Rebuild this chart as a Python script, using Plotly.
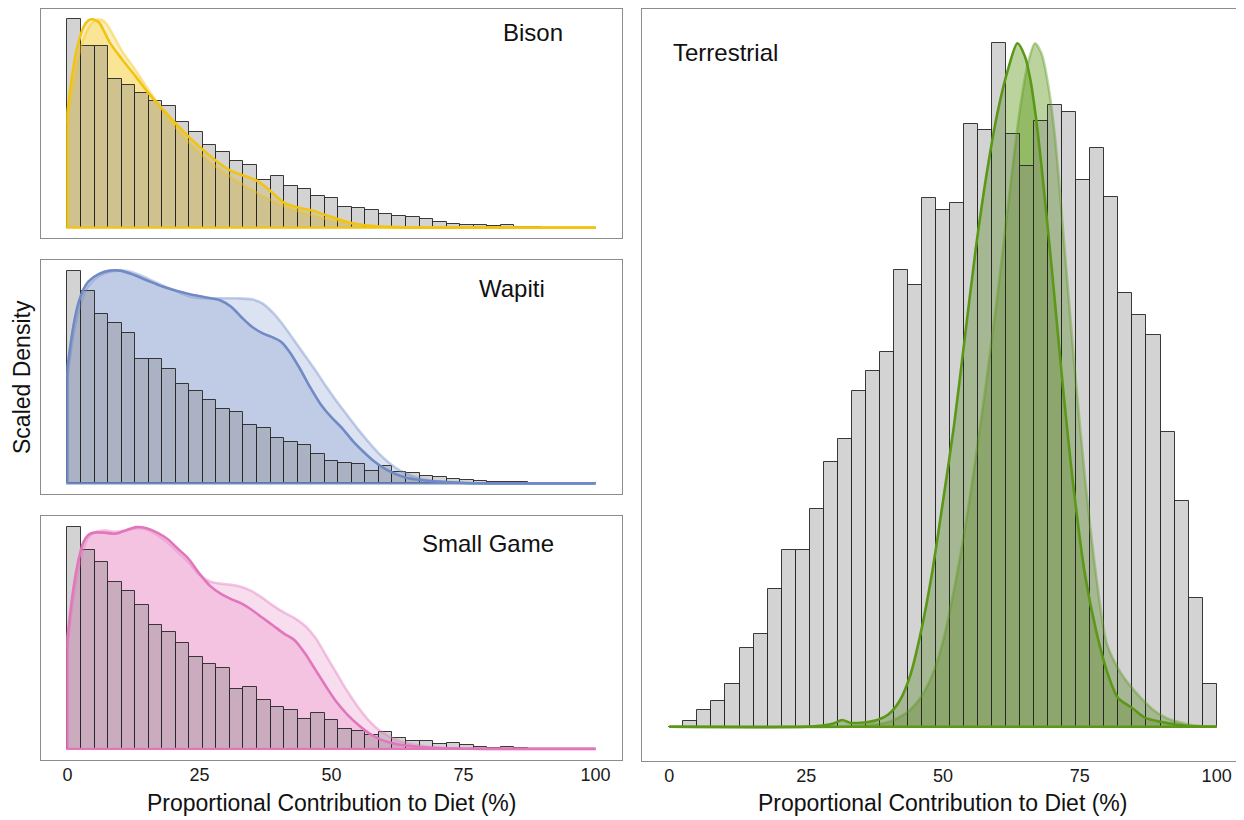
import plotly.graph_objects as go

# The page body keeps an 8 px margin, so the figure is sized/offset to compensate.
PAGE_W, PAGE_H = 1244, 820
OFF = 8
W, H = PAGE_W - OFF, PAGE_H - OFF
FONT = "Liberation Sans, Arial, sans-serif"


def fx(px):
    return (px - OFF) / W


def fy(py):
    return 1 - (py - OFF) / H


# ---------------- data ----------------
BIN_COUNT = 39
BIN_WIDTH = 100 / BIN_COUNT
bin_left = [i * BIN_WIDTH for i in range(BIN_COUNT)]

tick_values = [0, 25, 50, 75, 100]
tick_labels = ["0", "25", "50", "75", "100"]

panel_names = ["Bison", "Wapiti", "Small Game", "Terrestrial"]

bison_hist = [1.0, 0.872, 0.871, 0.715, 0.684, 0.646, 0.606, 0.586, 0.506, 0.461,
              0.396, 0.363, 0.322, 0.302, 0.229, 0.246, 0.202, 0.184, 0.151, 0.142,
              0.101, 0.092, 0.083, 0.064, 0.055, 0.050, 0.039, 0.028, 0.016, 0.011,
              0.011, 0.008, 0.011, 0.005, 0.005, 0.0, 0.0, 0.0, 0.0]
wapiti_hist = [1.0, 0.902, 0.798, 0.754, 0.706, 0.584, 0.586, 0.537, 0.466, 0.436,
               0.391, 0.350, 0.335, 0.274, 0.260, 0.212, 0.195, 0.179, 0.139, 0.106,
               0.098, 0.089, 0.059, 0.081, 0.053, 0.047, 0.036, 0.031, 0.022, 0.017,
               0.011, 0.008, 0.008, 0.005, 0.003, 0.002, 0.0, 0.0, 0.0]
small_hist = [1.0, 0.897, 0.842, 0.751, 0.711, 0.647, 0.560, 0.525, 0.478, 0.414,
              0.384, 0.367, 0.271, 0.279, 0.221, 0.191, 0.174, 0.134, 0.162, 0.130,
              0.091, 0.083, 0.064, 0.075, 0.049, 0.037, 0.036, 0.022, 0.025, 0.016,
              0.010, 0.006, 0.009, 0.003, 0.0, 0.0, 0.0, 0.0, 0.0]
terr_hist = [0.0, 0.008, 0.025, 0.038, 0.062, 0.116, 0.136, 0.202, 0.259, 0.259,
             0.319, 0.388, 0.421, 0.491, 0.520, 0.548, 0.668, 0.646, 0.774, 0.756,
             0.766, 0.882, 0.873, 1.0, 0.867, 0.820, 0.886, 0.909, 0.900, 0.800,
             0.846, 0.775, 0.635, 0.603, 0.573, 0.431, 0.330, 0.188, 0.063]

# scaled density curves (bold = main model, light = second model)
bison_bold_x = [0, 1, 2, 3, 4, 5, 6, 7, 8, 10.3, 12.8, 15.4, 18, 20.5, 23, 25.6, 28.2, 30.8,
                33.3, 35.9, 38.5, 41, 43.6, 46.2, 48.7, 51.3, 53.8, 56.4, 59, 62, 66, 75, 100]
bison_bold_y = [0.55, 0.75, 0.88, 0.96, 0.995, 1.0, 0.985, 0.94, 0.89, 0.81, 0.73, 0.645, 0.57,
                0.50, 0.435, 0.375, 0.32, 0.275, 0.25, 0.225, 0.175, 0.12, 0.097, 0.083, 0.062,
                0.04, 0.022, 0.011, 0.005, 0.002, 0.0, 0.0, 0.0]
bison_light_x = [0, 1, 2, 3, 4, 5, 6, 7, 8, 10.3, 12.8, 15.4, 18, 20.5, 23, 25.6, 28.2, 30.8,
                 33.3, 35.9, 38.5, 41, 43.6, 46.2, 48.7, 51.3, 53.8, 56.4, 60, 65, 70, 100]
bison_light_y = [0.5, 0.68, 0.81, 0.9, 0.96, 0.99, 1.0, 0.99, 0.955, 0.85, 0.76, 0.66, 0.565,
                 0.48, 0.41, 0.345, 0.29, 0.245, 0.205, 0.167, 0.133, 0.104, 0.08, 0.06, 0.043,
                 0.03, 0.02, 0.011, 0.005, 0.001, 0.0, 0.0]

wapiti_bold_x = [0, 1, 2, 3, 4, 6, 8, 10, 12, 15, 18, 20, 23, 26, 29, 31, 33, 35, 37, 39, 40.5,
                 42, 44, 46, 48, 50, 52, 54, 56, 58, 60, 62, 64, 66, 70, 75, 80, 100]
wapiti_bold_y = [0.54, 0.72, 0.84, 0.91, 0.95, 0.985, 1.0, 1.0, 0.985, 0.955, 0.925, 0.91, 0.89,
                 0.875, 0.86, 0.83, 0.78, 0.735, 0.705, 0.685, 0.665, 0.62, 0.54, 0.45, 0.37,
                 0.31, 0.26, 0.20, 0.15, 0.105, 0.07, 0.045, 0.028, 0.018, 0.008, 0.002, 0.0, 0.0]
wapiti_light_x = [0, 1, 2, 3, 4, 6, 8, 10, 12, 15, 18, 20, 23, 26, 29, 32, 35, 37, 39, 41, 43,
                  45, 47, 49, 51, 53, 55, 57, 59, 61, 63, 65, 67, 70, 75, 80, 100]
wapiti_light_y = [0.5, 0.68, 0.8, 0.88, 0.93, 0.975, 0.995, 1.0, 0.995, 0.965, 0.93, 0.91, 0.88,
                  0.87, 0.87, 0.87, 0.865, 0.845, 0.80, 0.74, 0.67, 0.60, 0.53, 0.455, 0.385,
                  0.32, 0.255, 0.195, 0.14, 0.095, 0.06, 0.037, 0.022, 0.01, 0.003, 0.0, 0.0]

small_bold_x = [0, 1, 2, 3, 4, 5, 7, 9, 11, 13, 15, 17, 19, 21, 23, 25, 27, 29, 31, 33, 35, 37,
                39, 41, 43, 45, 47, 49, 51, 53, 55, 57, 59, 61, 63, 66, 70, 75, 80, 100]
small_bold_y = [0.50, 0.70, 0.84, 0.93, 0.965, 0.975, 0.975, 0.97, 0.985, 1.0, 0.995, 0.975,
                0.945, 0.90, 0.855, 0.79, 0.735, 0.70, 0.675, 0.655, 0.625, 0.59, 0.555, 0.52,
                0.49, 0.43, 0.355, 0.28, 0.21, 0.155, 0.11, 0.072, 0.045, 0.029, 0.019, 0.01,
                0.004, 0.001, 0.0, 0.0]
small_light_x = small_bold_x
small_light_y = [0.46, 0.66, 0.80, 0.90, 0.955, 0.975, 0.985, 0.98, 0.985, 0.995, 0.99, 0.965,
                 0.93, 0.885, 0.84, 0.785, 0.755, 0.745, 0.74, 0.73, 0.71, 0.68, 0.645, 0.615,
                 0.59, 0.555, 0.50, 0.42, 0.34, 0.26, 0.19, 0.13, 0.085, 0.055, 0.035, 0.017,
                 0.006, 0.002, 0.0, 0.0]

terr_bold_x = [0, 25, 28, 30, 31.6, 33, 35, 38, 40, 42, 44, 46, 48, 50, 52, 54, 56, 58, 60, 62,
               63.6, 65, 66, 67, 68, 70, 72, 74, 76, 78, 80, 82, 84.5, 87, 90, 92, 95, 100]
terr_bold_y = [0, 0, 0.002, 0.005, 0.01, 0.006, 0.006, 0.01, 0.018, 0.037, 0.075, 0.14, 0.225,
               0.33, 0.44, 0.57, 0.70, 0.81, 0.90, 0.965, 1.0, 0.98, 0.945, 0.89, 0.82, 0.66,
               0.49, 0.34, 0.22, 0.14, 0.08, 0.042, 0.028, 0.013, 0.007, 0.004, 0.001, 0]
terr_light_x = [0, 32, 35, 38, 40, 42, 44, 46, 48, 50, 52, 54, 56, 58, 60, 62, 64, 65.5, 66.8,
                68, 69.2, 70.5, 72, 74, 76, 78, 80, 82.8, 85.3, 88.4, 90.8, 94.5, 97, 100]
terr_light_y = [0, 0, 0.002, 0.004, 0.007, 0.014, 0.025, 0.044, 0.075, 0.125, 0.2, 0.29, 0.395,
                0.51, 0.635, 0.77, 0.9, 0.97, 1.0, 0.985, 0.94, 0.86, 0.72, 0.53, 0.36, 0.22,
                0.12, 0.075, 0.05, 0.025, 0.013, 0.004, 0.001, 0]

# ---------------- styling / layout ----------------
panels = [
    dict(name=panel_names[0], hist=bison_hist,
         bx=bison_bold_x, by=bison_bold_y, lx=bison_light_x, ly=bison_light_y,
         rgb=(242, 196, 16), alpha=0.25,
         box=(41, 622, 9, 238), label_xy=(533, 33), ticks=False),
    dict(name=panel_names[1], hist=wapiti_hist,
         bx=wapiti_bold_x, by=wapiti_bold_y, lx=wapiti_light_x, ly=wapiti_light_y,
         rgb=(112, 138, 198), alpha=0.25,
         box=(41, 622, 260, 494), label_xy=(512, 288), ticks=False),
    dict(name=panel_names[2], hist=small_hist,
         bx=small_bold_x, by=small_bold_y, lx=small_light_x, ly=small_light_y,
         rgb=(226, 118, 188), alpha=0.25,
         box=(41, 622, 516, 760), label_xy=(488, 543), ticks=True),
    dict(name=panel_names[3], hist=terr_hist,
         bx=terr_bold_x, by=terr_bold_y, lx=terr_light_x, ly=terr_light_y,
         rgb=(92, 152, 24), alpha=0.42,
         box=(642, 1244, 9, 761), label_xy=(725, 52), ticks=True),
]


def rgba(c, a):
    return f"rgba({c[0]},{c[1]},{c[2]},{a})"


fig = go.Figure()
layout = dict(
    width=W, height=H,
    margin=dict(l=0, r=0, t=0, b=0),
    paper_bgcolor="white", plot_bgcolor="white",
    showlegend=False, bargap=0,
    font=dict(family=FONT, color="#1a1a1a"),
    annotations=[],
)

for i, p in enumerate(panels):
    n = i + 1
    o = i + 5
    xa = "x" if n == 1 else f"x{n}"
    ya = "y" if n == 1 else f"y{n}"
    xo, yo = f"x{o}", f"y{o}"
    c = p["rgb"]

    # density fills (base layer)
    for dx, dy in [(p["lx"], p["ly"]), (p["bx"], p["by"])]:
        fig.add_trace(go.Scatter(
            x=dx, y=dy, mode="lines",
            line=dict(width=0, shape="spline", smoothing=0.8, color=rgba(c, 0)),
            fill="tozeroy", fillcolor=rgba(c, p["alpha"]),
            xaxis=xa, yaxis=ya, hoverinfo="skip"))

    # histogram (semi-transparent, on top of the density fills)
    fig.add_trace(go.Bar(
        x=bin_left, y=p["hist"], width=BIN_WIDTH, offset=0,
        marker=dict(color="rgba(128,128,128,0.35)",
                    line=dict(color="rgba(38,38,38,0.9)", width=1)),
        xaxis=xo, yaxis=yo, hoverinfo="skip"))

    # density outlines
    fig.add_trace(go.Scatter(
        x=p["lx"], y=p["ly"], mode="lines",
        line=dict(width=2.6, shape="spline", smoothing=0.8, color=rgba(c, 0.4)),
        xaxis=xo, yaxis=yo, hoverinfo="skip"))
    fig.add_trace(go.Scatter(
        x=[p["bx"][0], p["bx"][0], p["bx"][-1]], y=[p["by"][0], 0, 0], mode="lines",
        line=dict(width=2.4, color=rgba(c, 1)),
        xaxis=xo, yaxis=yo, hoverinfo="skip"))
    fig.add_trace(go.Scatter(
        x=p["bx"], y=p["by"], mode="lines",
        line=dict(width=2.6, shape="spline", smoothing=0.8, color=rgba(c, 1)),
        xaxis=xo, yaxis=yo, hoverinfo="skip"))

    x0, x1, y0, y1 = p["box"]
    xdom = [max(0.0, fx(x0)), min(1.0, fx(x1))]
    ydom = [max(0.0, fy(y1)), min(1.0, fy(y0))]
    key_x = "xaxis" if n == 1 else f"xaxis{n}"
    key_y = "yaxis" if n == 1 else f"yaxis{n}"
    layout[key_x] = dict(
        domain=xdom, anchor=ya, range=[-5, 105],
        showgrid=False, zeroline=False, showline=True, mirror=True,
        linecolor="#8c8c8c", linewidth=1, ticks="",
        tickmode="array", tickvals=tick_values, ticktext=tick_labels,
        showticklabels=p["ticks"], ticklabelstandoff=-2,
        tickfont=dict(family=FONT, size=18, color="#1a1a1a"), fixedrange=True)
    layout[key_y] = dict(
        domain=ydom, anchor=xa, range=[-0.05, 1.05],
        showgrid=False, zeroline=False, showline=True, mirror=True,
        linecolor="#8c8c8c", linewidth=1, ticks="", showticklabels=False,
        fixedrange=True)
    layout[f"xaxis{o}"] = dict(overlaying=xa, anchor=yo, range=[-5, 105],
                               visible=False, fixedrange=True)
    layout[f"yaxis{o}"] = dict(overlaying=ya, anchor=xo, range=[-0.05, 1.05],
                               visible=False, fixedrange=True)

    lx, ly = p["label_xy"]
    layout["annotations"].append(dict(
        text=p["name"], x=fx(lx), y=fy(ly), xref="paper", yref="paper",
        xanchor="center", yanchor="middle", showarrow=False,
        font=dict(family=FONT, size=24, color="#111111")))

# axis titles
for cx in [(41 + 622) / 2, (642 + 1243) / 2]:
    layout["annotations"].append(dict(
        text="Proportional Contribution to Diet (%)", x=fx(cx), y=fy(803),
        xref="paper", yref="paper", xanchor="center", yanchor="middle",
        showarrow=False, font=dict(family=FONT, size=23, color="#111111")))
layout["annotations"].append(dict(
    text="Scaled Density", x=fx(22), y=fy(377), xref="paper", yref="paper",
    xanchor="center", yanchor="middle", textangle=-90, showarrow=False,
    font=dict(family=FONT, size=23, color="#111111")))

fig.update_layout(**layout)
fig.write_html("out.html")
